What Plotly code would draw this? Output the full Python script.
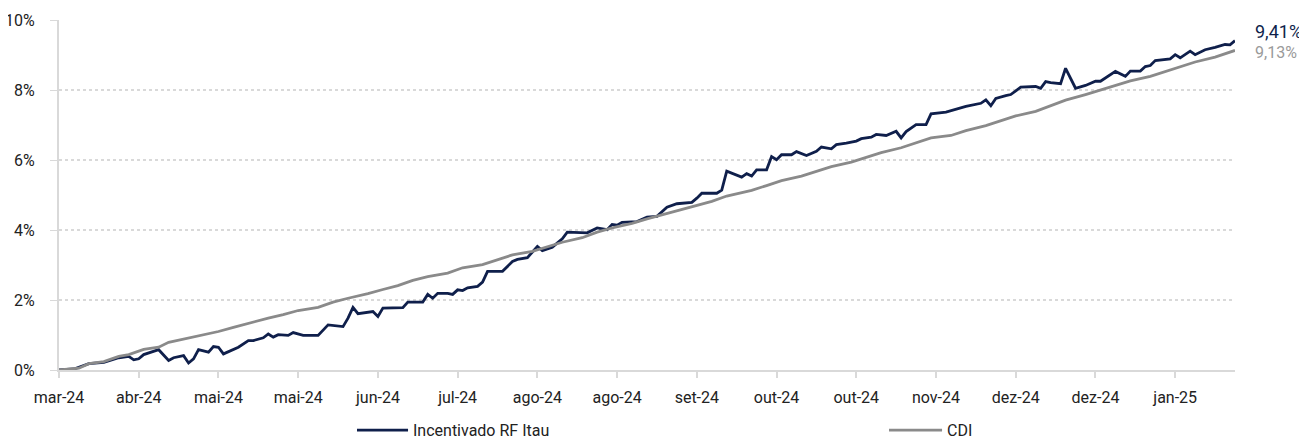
import plotly.graph_objects as go

# ---- data (trading-day index, cumulative return in %) ----
dias_fundo = [0, 3, 6, 9, 12, 14, 15, 16, 17, 20, 22, 23, 25, 26, 27, 28, 30, 31, 32, 33,
              36, 38, 39, 41, 42, 43, 44, 46, 47, 49, 52, 54, 57, 58, 59, 60, 63, 64, 65, 69,
              70, 73, 74, 75, 76, 78, 79, 80, 81, 82, 84, 85, 86, 89, 91, 92, 94, 95, 96, 97,
              99, 101, 102, 106, 108, 110, 111, 112, 113, 116, 118, 120, 121, 122, 124, 127, 128, 129, 132, 133,
              134, 137, 138, 139, 140, 142, 143, 144, 145, 147, 148, 149, 150, 152, 153, 155, 156, 158, 160, 161,
              163, 164, 166, 168, 169, 170, 172, 174, 175, 178, 180, 182, 185, 186, 187, 188, 190, 191, 193, 196,
              197, 198, 199, 201, 202, 204, 206, 208, 209, 212, 214, 215, 217, 218, 219, 220, 223, 224, 225, 227,
              228, 230, 232, 234, 235, 236]
fundo = [0.00, 0.03, 0.18, 0.22, 0.35, 0.39, 0.29, 0.32, 0.44, 0.58, 0.27, 0.35, 0.41, 0.20, 0.32, 0.58, 0.51, 0.67, 0.65, 0.46,
         0.65, 0.84, 0.84, 0.92, 1.03, 0.94, 1.01, 0.99, 1.07, 0.99, 0.99, 1.29, 1.24, 1.48, 1.79, 1.61, 1.67, 1.53, 1.77, 1.78,
         1.94, 1.94, 2.16, 2.05, 2.19, 2.19, 2.16, 2.29, 2.27, 2.35, 2.39, 2.51, 2.82, 2.82, 3.10, 3.16, 3.21, 3.37, 3.53, 3.41,
         3.51, 3.75, 3.94, 3.92, 4.06, 4.01, 4.16, 4.14, 4.22, 4.24, 4.37, 4.39, 4.53, 4.65, 4.75, 4.79, 4.91, 5.05, 5.05, 5.14,
         5.68, 5.51, 5.61, 5.54, 5.72, 5.72, 6.10, 6.01, 6.15, 6.15, 6.24, 6.19, 6.13, 6.25, 6.37, 6.32, 6.44, 6.48, 6.54, 6.61,
         6.65, 6.73, 6.70, 6.82, 6.63, 6.81, 7.01, 7.01, 7.32, 7.37, 7.46, 7.53, 7.62, 7.72, 7.55, 7.76, 7.84, 7.87, 8.08, 8.10,
         8.05, 8.24, 8.21, 8.18, 8.62, 8.05, 8.13, 8.25, 8.25, 8.53, 8.39, 8.54, 8.54, 8.67, 8.70, 8.84, 8.89, 9.01, 8.92, 9.11,
         9.01, 9.15, 9.22, 9.30, 9.29, 9.41]

dias_cdi = [0, 4, 6, 9, 12, 14, 17, 20, 22, 25, 28, 32, 35, 38, 42, 45, 48, 52, 55, 58,
            62, 65, 68, 71, 74, 78, 81, 85, 88, 91, 95, 98, 101, 105, 108, 111, 115, 118, 121, 125,
            128, 131, 134, 139, 142, 145, 149, 152, 155, 159, 162, 165, 169, 172, 175, 179, 182, 186, 189, 192,
            196, 199, 202, 206, 209, 212, 215, 219, 222, 225, 228, 232, 236]
cdi = [0.00, 0.05, 0.18, 0.24, 0.39, 0.44, 0.59, 0.65, 0.79, 0.88, 0.99, 1.10, 1.22, 1.34, 1.48, 1.58, 1.70, 1.79, 1.94, 2.05,
       2.18, 2.30, 2.41, 2.56, 2.67, 2.77, 2.92, 3.01, 3.16, 3.29, 3.39, 3.53, 3.65, 3.78, 3.94, 4.06, 4.19, 4.32, 4.44, 4.58,
       4.70, 4.82, 4.97, 5.13, 5.27, 5.41, 5.54, 5.67, 5.81, 5.94, 6.08, 6.21, 6.35, 6.48, 6.63, 6.70, 6.84, 6.98, 7.11, 7.26,
       7.39, 7.55, 7.71, 7.87, 8.00, 8.13, 8.26, 8.39, 8.53, 8.67, 8.80, 8.94, 9.13]

tick_pos = [0, 16, 32, 48, 64, 80, 96, 112, 128, 144, 160, 176, 192, 208, 224]
tick_labels = ["mar-24", "abr-24", "mai-24", "mai-24", "jun-24", "jul-24", "ago-24", "ago-24",
               "set-24", "out-24", "out-24", "nov-24", "dez-24", "dez-24", "jan-25"]
y_ticks = [0, 2, 4, 6, 8, 10]
y_labels = ["0%", "2%", "4%", "6%", "8%", "10%"]

nome_fundo = "Incentivado RF Itau"
nome_cdi = "CDI"

NAVY = "#0f1f4b"
GRAY = "#8a8a8a"
AXIS = "#d9d9d9"
FONT = "Roboto"

fig = go.Figure()
fig.add_trace(go.Scatter(x=dias_fundo, y=fundo, mode="lines", name=nome_fundo,
                         line=dict(color=NAVY, width=2.8), showlegend=False))
fig.add_trace(go.Scatter(x=dias_cdi, y=cdi, mode="lines", name=nome_cdi,
                         line=dict(color=GRAY, width=2.8), showlegend=False))

# end labels
fig.add_annotation(x=dias_fundo[-1], y=fundo[-1], text=f"{fundo[-1]:.2f}%".replace(".", ","),
                   xanchor="left", yanchor="middle", xshift=18, yshift=9, showarrow=False,
                   font=dict(family=FONT, size=18, color=NAVY))
fig.add_annotation(x=dias_cdi[-1], y=cdi[-1], text=f"{cdi[-1]:.2f}%".replace(".", ","),
                   xanchor="left", yanchor="middle", xshift=18, yshift=-2, showarrow=False,
                   font=dict(family=FONT, size=16, color="#9a9a9a"))

# custom legend
LEG_Y = -0.172
for (x0, x1, col, name) in [(0.2534, 0.2968, NAVY, nome_fundo), (0.7058, 0.7509, GRAY, nome_cdi)]:
    fig.add_shape(type="line", xref="paper", yref="paper", x0=x0, x1=x1, y0=LEG_Y, y1=LEG_Y,
                  line=dict(color=col, width=2.8))
    fig.add_annotation(xref="paper", yref="paper", x=x1 + 0.003, y=LEG_Y, text=name,
                       xanchor="left", yanchor="middle", showarrow=False, borderpad=0,
                       font=dict(family=FONT, size=16, color="#222222"))

fig.update_layout(
    width=1299, height=432,
    margin=dict(l=51, r=72, t=12, b=70, autoexpand=False),
    paper_bgcolor="white", plot_bgcolor="white",
    font=dict(family=FONT, size=16, color="#222222"),
    showlegend=False,
)
fig.update_xaxes(range=[0, 236], tickmode="array", tickvals=tick_pos, ticktext=tick_labels,
                 automargin=False,
                 showgrid=False, zeroline=False, showline=True, linecolor=AXIS, linewidth=2,
                 ticks="outside", ticklen=6, tickwidth=2, tickcolor=AXIS, ticklabelstandoff=6,
                 tickfont=dict(family=FONT, size=16, color="#222222"))
fig.update_yaxes(range=[0, 10], tickmode="array", tickvals=y_ticks, ticktext=y_labels,
                 automargin=False,
                 showgrid=True, gridcolor=AXIS, gridwidth=1.5, griddash="dot",
                 zeroline=False, showline=True, linecolor=AXIS, linewidth=2,
                 ticks="outside", ticklen=7, tickwidth=1, tickcolor=AXIS, ticklabelstandoff=12,
                 tickfont=dict(family=FONT, size=16, color="#222222"))

fig.write_html("out.html")
